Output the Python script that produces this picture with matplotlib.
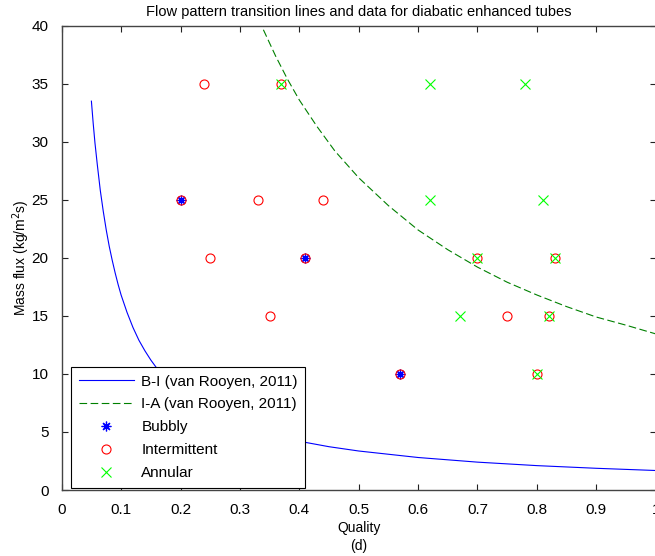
import matplotlib
matplotlib.use("Agg")
import matplotlib.pyplot as plt

plt.rcParams['font.family'] = ['Liberation Sans', 'DejaVu Sans']
plt.rcParams['lines.scale_dashes'] = False

# Transition lines (van Rooyen, 2011): quality vs. mass flux
bi_quality = [0.050, 0.053, 0.056, 0.060, 0.065, 0.070, 0.075, 0.080, 0.085, 0.090,
              0.095, 0.100, 0.110, 0.120, 0.130, 0.140, 0.150, 0.160, 0.180, 0.200,
              0.225, 0.250, 0.300, 0.350, 0.400, 0.450, 0.500, 0.600, 0.700, 0.800,
              0.900, 1.000]
bi_massflux = [33.5, 31.6, 29.9, 28.0, 25.8, 24.0, 22.4, 21.0, 19.8, 18.7,
               17.7, 16.8, 15.3, 14.0, 12.9, 12.0, 11.2, 10.5, 9.35, 8.4,
               7.47, 6.72, 5.6, 4.8, 4.2, 3.73, 3.36, 2.8, 2.4, 2.1,
               1.87, 1.68]

ia_quality = [0.30, 0.32, 0.34, 0.36, 0.38, 0.40, 0.43, 0.46, 0.50, 0.55, 0.60,
              0.65, 0.70, 0.75, 0.80, 0.85, 0.90, 0.95, 1.00]
ia_massflux = [44.8, 42.0, 39.6, 37.4, 35.4, 33.6, 31.3, 29.2, 26.9, 24.5, 22.4,
               20.7, 19.2, 17.9, 16.8, 15.8, 14.9, 14.2, 13.45]

# Measured flow-pattern observations
bubbly_quality = [0.20, 0.41, 0.57]
bubbly_massflux = [25, 20, 10]

intermittent_quality = [0.24, 0.37, 0.20, 0.33, 0.44, 0.25, 0.41, 0.70, 0.83,
                        0.35, 0.75, 0.82, 0.57, 0.80]
intermittent_massflux = [35, 35, 25, 25, 25, 20, 20, 20, 20, 15, 15, 15, 10, 10]

annular_quality = [0.37, 0.62, 0.78, 0.62, 0.81, 0.70, 0.83, 0.67, 0.82, 0.80]
annular_massflux = [35, 35, 35, 25, 25, 20, 20, 15, 15, 10]

x_ticks = [0, 0.1, 0.2, 0.3, 0.4, 0.5, 0.6, 0.7, 0.8, 0.9, 1]
x_tick_labels = ['0', '0.1', '0.2', '0.3', '0.4', '0.5', '0.6', '0.7', '0.8', '0.9', '1']
y_ticks = [0, 5, 10, 15, 20, 25, 30, 35, 40]

W, H = 655, 556
fig = plt.figure(figsize=(W / 100, H / 100), dpi=100)
ax = fig.add_axes([61.7 / W, 1 - 490 / H, 594 / W, 464.3 / H])

ax.plot(bi_quality, bi_massflux, color=(0, 0, 1), lw=0.8,
        label='B-I (van Rooyen, 2011)')
ax.plot(ia_quality, ia_massflux, color=(0, 0.5, 0), lw=0.8, dashes=(5.5, 2.5),
        label='I-A (van Rooyen, 2011)')
ax.plot(bubbly_quality, bubbly_massflux, linestyle='none', marker=(8, 2, 0),
        ms=7, mec=(0, 0, 1), mew=0.9, label='Bubbly')
ax.plot(intermittent_quality, intermittent_massflux, linestyle='none', marker='o',
        ms=6.5, mfc='none', mec=(1, 0, 0), mew=0.8, label='Intermittent')
ax.plot(annular_quality, annular_massflux, linestyle='none', marker='x',
        ms=6.5, mec=(0, 1, 0), mew=0.8, label='Annular')

ax.set_xlim(0, 1)
ax.set_ylim(0, 40)
ax.set_xticks(x_ticks)
ax.set_xticklabels(x_tick_labels)
ax.set_yticks(y_ticks)
ax.tick_params(direction='in', top=True, right=True, length=4.3, width=0.8,
               labelsize=11, color='#222222')
ax.tick_params(axis='y', pad=9.5)
ax.tick_params(axis='x', pad=9)
for s in ax.spines.values():
    s.set_color('#444444')
    s.set_linewidth(1.0)

ax.set_title('Flow pattern transition lines and data for diabatic enhanced tubes',
             fontsize=10.5, pad=7)
ax.set_xlabel('Quality\n(d)', fontsize=10, labelpad=3, linespacing=1.35)
ax.set_ylabel('Mass flux (kg/m$^2$s)', fontsize=10, labelpad=0)

leg = ax.legend(loc='lower left', bbox_to_anchor=(0.0157, 0.005), fontsize=11,
                frameon=True, fancybox=False, shadow=False, borderpad=0.5,
                labelspacing=0.58, handlelength=3.6, handletextpad=0.5,
                borderaxespad=0, numpoints=1, framealpha=1)
leg.get_frame().set_edgecolor('black')
leg.get_frame().set_linewidth(0.8)

fig.savefig('out.png', dpi=100)
